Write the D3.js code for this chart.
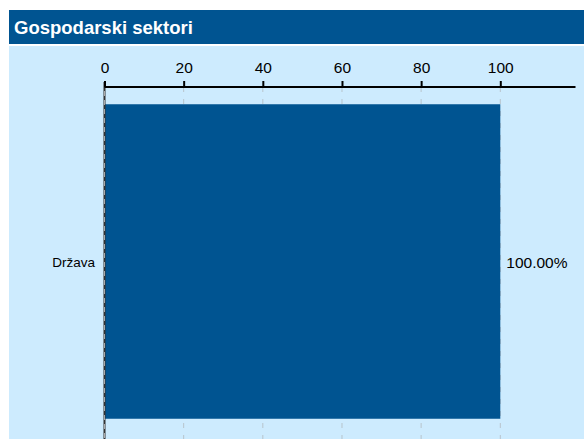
<!DOCTYPE html>
<html lang="hr">
<head>
  <meta charset="UTF-8" />
  <title>Gospodarski sektori</title>
  <style>
    body { margin: 0; background: #fff; font-family: "Liberation Sans", Arial, sans-serif; }
    svg { display: block; }
  </style>
</head>
<body>
  <svg id="chart" width="584" height="439"></svg>

  <script src="https://d3js.org/d3.v7.min.js"></script>
  <script>
    const categories = ["Država"];
    const values = [100];
    const ticks = [0, 20, 40, 60, 80, 100];
    const title = "Gospodarski sektori";

    const width = 584, height = 439;
    const svg = d3.select("#chart");

    // panel background
    svg.append("rect").attr("x", 9).attr("y", 46).attr("width", width - 9).attr("height", height - 46)
      .attr("fill", "#cdebfe");
    svg.append("rect").attr("x", 9).attr("y", 10).attr("width", width - 9).attr("height", 34)
      .attr("fill", "#005491");
    svg.append("text").attr("x", 14).attr("y", 34)
      .attr("fill", "#fff").attr("font-size", 18.5).attr("font-weight", "bold")
      .text(title);

    const axisY = 87;
    const x = d3.scaleLinear().domain([0, 119]).range([104.5, 575.5]);
    const y = d3.scaleBand().domain(categories).range([axisY, 436]).padding(0.052);

    // grid lines
    svg.append("g").selectAll("line").data(ticks.slice(1)).enter().append("line")
      .attr("x1", d => x(d)).attr("x2", d => x(d))
      .attr("y1", axisY).attr("y2", height)
      .attr("stroke", "#b8c4cc").attr("stroke-width", 1)
      .attr("stroke-dasharray", "5,7");

    // bars
    svg.append("g").selectAll("rect").data(values).enter().append("rect")
      .attr("x", x(0))
      .attr("y", (d, i) => y(categories[i]))
      .attr("width", d => x(d) - x(0))
      .attr("height", y.bandwidth())
      .attr("fill", "#005491");

    // zero line
    svg.append("line").attr("x1", x(0)).attr("x2", x(0)).attr("y1", axisY - 5).attr("y2", height)
      .attr("stroke", "#333").attr("stroke-width", 2);
    svg.append("line").attr("x1", x(0)).attr("x2", x(0)).attr("y1", axisY - 5).attr("y2", height)
      .attr("stroke", "#aaa").attr("stroke-width", 1).attr("stroke-dasharray", "5,4");

    // top axis
    const axis = d3.axisTop(x).tickValues(ticks).tickSize(6).tickPadding(8);
    const ga = svg.append("g").attr("transform", `translate(0,${axisY})`).call(axis);
    ga.select(".domain").attr("stroke", "#000").attr("stroke-width", 2).attr("d", `M${x(0)},0H${x(119)}`);
    ga.selectAll(".tick line").attr("stroke", "#000").attr("stroke-width", 2);
    ga.selectAll(".tick text").attr("font-size", 15.5).attr("fill", "#000")
      .attr("font-family", "'Liberation Sans', Arial, sans-serif");

    // category labels
    svg.append("g").selectAll("text").data(categories).enter().append("text")
      .attr("x", 95).attr("y", d => y(d) + y.bandwidth() / 2 + 1)
      .attr("dy", "0.35em").attr("text-anchor", "end").attr("font-size", 13.5)
      .text(d => d);

    // value labels
    svg.append("g").selectAll("text").data(values).enter().append("text")
      .attr("x", d => x(d) + 6).attr("y", (d, i) => y(categories[i]) + y.bandwidth() / 2 + 1)
      .attr("dy", "0.35em").attr("font-size", 15.5)
      .text(d => d.toFixed(2) + "%");
  </script>
</body>
</html>
